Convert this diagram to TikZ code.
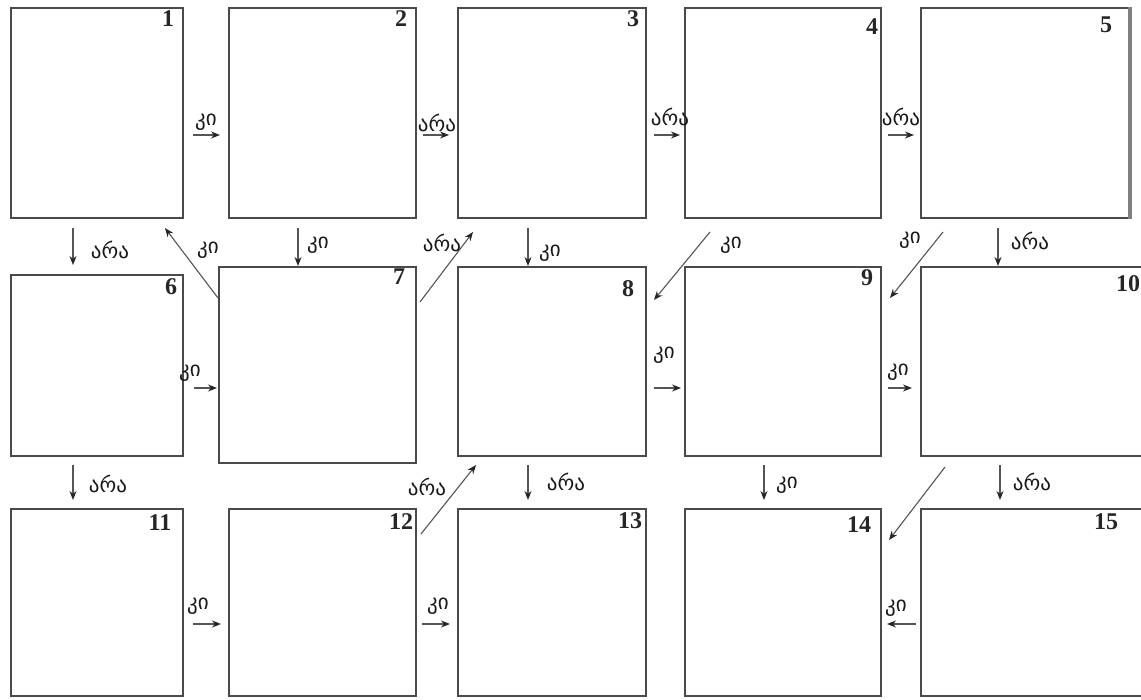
\documentclass[tikz,border=0pt]{standalone}
\usepackage{fontspec}
\setmainfont{Liberation Serif}
\newfontfamily\geo{DejaVu Sans}
\usetikzlibrary{arrows.meta,calc}
\definecolor{boxgray}{HTML}{4A4A4A}
\definecolor{linegray}{HTML}{555555}
\begin{document}
\begin{tikzpicture}[x=1pt,y=-1pt,
  box/.style={draw=boxgray, line width=2pt, fill=white, anchor=north west, inner sep=0pt},
  arr/.style={draw=linegray, line width=1.1pt, -{Stealth[length=9pt,width=7pt,color=black!85]}},
  lab/.style={font=\geo\fontsize{21}{21}\selectfont, text=black!90, inner sep=0pt},
  num/.style={font=\bfseries\fontsize{24}{24}\selectfont, text=black!85, inner sep=0pt}]
\useasboundingbox[fill=white] (0,0) rectangle (1141,700);

% boxes
\node[box, minimum width=172pt, minimum height=210pt] (b1) at (10,7) {};
\node[box, minimum width=187pt, minimum height=210pt] (b2) at (228,7) {};
\node[box, minimum width=188pt, minimum height=210pt] (b3) at (457,7) {};
\node[box, minimum width=196pt, minimum height=210pt] (b4) at (684,7) {};
\node[box, minimum width=208pt, minimum height=210pt] (b5) at (920,7) {};
\draw[draw=gray, line width=3.5pt] (b5.north east) -- (b5.south east);

\node[box, minimum width=172pt, minimum height=181pt] (b6) at (10,274) {};
\node[box, minimum width=197pt, minimum height=196pt] (b7) at (218,266) {};
\node[box, minimum width=188pt, minimum height=189pt] (b8) at (457,266) {};
\node[box, minimum width=196pt, minimum height=189pt] (b9) at (684,266) {};
\node[box, minimum width=240pt, minimum height=189pt] (b10) at (920,266) {};

\node[box, minimum width=172pt, minimum height=187pt] (b11) at (10,508) {};
\node[box, minimum width=187pt, minimum height=187pt] (b12) at (228,508) {};
\node[box, minimum width=188pt, minimum height=187pt] (b13) at (457,508) {};
\node[box, minimum width=196pt, minimum height=187pt] (b14) at (684,508) {};
\node[box, minimum width=240pt, minimum height=187pt] (b15) at (920,508) {};

% numbers
\node[num] (n1) at (168,19) {1};
\node[num] (n2) at (401,19) {2};
\node[num] (n3) at (633,19) {3};
\node[num] (n4) at (872,27) {4};
\node[num] (n5) at (1106,25) {5};
\node[num] (n6) at (171,287) {6};
\node[num] (n7) at (399,277) {7};
\node[num] (n8) at (628,289) {8};
\node[num] (n9) at (867,278) {9};
\node[num] (n10) at (1128,284) {10};
\node[num] (n11) at (160,523) {11};
\node[num] (n12) at (401,522) {12};
\node[num] (n13) at (630,521) {13};
\node[num] (n14) at (859,525) {14};
\node[num] (n15) at (1106,522) {15};

% row 1 horizontal
\draw[arr] ($(b1.north east)+(9,128)$) -- ($(b2.north west)+(-8,128)$);
\draw[arr] ($(b2.north east)+(6,128)$) -- ($(b3.north west)+(-8,128)$);
\draw[arr] ($(b3.north east)+(7,128)$) -- ($(b4.north west)+(-4,128)$);
\draw[arr] ($(b4.north east)+(6,128)$) -- ($(b5.north west)+(-6,128)$);

% row 1 -> row 2
\draw[arr] ($(b1.south west)+(63,9)$) -- ($(b6.north west)+(63,-9)$);
\draw[arr] ($(b2.south west)+(70,9)$) -- ($(b7.north west)+(80,0)$);
\draw[arr] ($(b3.south west)+(71,9)$) -- ($(b8.north west)+(71,0)$);
\draw[arr] ($(b5.south west)+(78,9)$) -- ($(b10.north west)+(78,0)$);
\draw[arr] ($(b7.north west)+(0,32)$) -- ($(b1.south east)+(-19,9)$);
\draw[arr] ($(b7.north east)+(3,36)$) -- ($(b3.south west)+(16,13)$);
\draw[arr] ($(b4.south west)+(26,13)$) -- ($(b8.north east)+(7,34)$);
\draw[arr] ($(b5.south west)+(23,13)$) -- ($(b9.north east)+(8,32)$);

% row 2 horizontal
\draw[arr] ($(b6.north east)+(10,114)$) -- ($(b7.north west)+(-1,122)$);
\draw[arr] ($(b8.north east)+(7,122)$) -- ($(b9.north west)+(-3,122)$);
\draw[arr] ($(b9.north east)+(6,122)$) -- ($(b10.north west)+(-8,122)$);

% row 2 -> row 3
\draw[arr] ($(b6.south west)+(63,8)$) -- ($(b11.north west)+(63,-8)$);
\draw[arr] ($(b8.south west)+(71,8)$) -- ($(b13.north west)+(71,-8)$);
\draw[arr] ($(b9.south west)+(80,8)$) -- ($(b14.north west)+(80,-8)$);
\draw[arr] ($(b10.south west)+(80,8)$) -- ($(b15.north west)+(80,-8)$);
\draw[arr] ($(b12.north east)+(4,26)$) -- ($(b8.south west)+(19,8)$);
\draw[arr] ($(b10.south west)+(25,10)$) -- ($(b14.north east)+(7,32)$);

% row 3 horizontal
\draw[arr] ($(b11.north east)+(9,116)$) -- ($(b12.north west)+(-7,116)$);
\draw[arr] ($(b12.north east)+(5,116)$) -- ($(b13.north west)+(-7,116)$);
\draw[arr] ($(b15.north west)+(-4,116)$) -- ($(b14.north east)+(5,116)$);

% labels
\node[lab] (l12) at (206,122) {კი};
\node[lab] (l23) at (437,123) {არა};
\node[lab] (l34) at (670,117) {არა};
\node[lab] (l45) at (901,117) {არა};
\node[lab] (l16) at (110,250) {არა};
\node[lab] (l71) at (208,250) {კი};
\node[lab] (l27) at (318,245) {კი};
\node[lab] (l73) at (442,243) {არა};
\node[lab] (l38) at (550,253) {კი};
\node[lab] (l48) at (731,245) {კი};
\node[lab] (l59) at (910,240) {კი};
\node[lab] (l510) at (1030,241) {არა};
\node[lab] (l67) at (190,373) {კი};
\node[lab] (l89) at (664,355) {კი};
\node[lab] (l910) at (898,372) {კი};
\node[lab] (l611) at (108,484) {არა};
\node[lab] (l128) at (427,487) {არა};
\node[lab] (l813) at (566,482) {არა};
\node[lab] (l914) at (787,485) {კი};
\node[lab] (l1015) at (1032,482) {არა};
\node[lab] (l1112) at (198,606) {კი};
\node[lab] (l1213) at (438,606) {კი};
\node[lab] (l1514) at (896,608) {კი};
\end{tikzpicture}
\end{document}
